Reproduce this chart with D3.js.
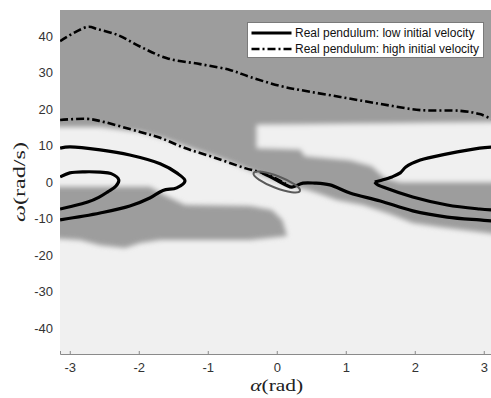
<!DOCTYPE html>
<html>
<head>
<meta charset="utf-8">
<script src="https://cdn.jsdelivr.net/npm/d3@7"></script>
<style>
  body { margin: 0; background: #fff; }
  svg text { font-family: "Liberation Sans", Arial, sans-serif; }
</style>
</head>
<body>
<div id="chart"></div>
<script>
// ---------------------------//
//       DATA                 //
// ---------------------------//
var xTicks = [-3, -2, -1, 0, 1, 2, 3];
var yTicks = [-40, -30, -20, -10, 0, 10, 20, 30, 40];

// regions of the background map [alpha, omega]
var darkTop = [[-3.5, 52], [3.5, 52], [3.5, -15.1], [2.36, -12.3], [1.97, -11.2], [1.64, -8.8],
  [1.25, -6.3], [0.87, -4.9], [0.63, -3.3], [0.41, -1.9], [0.19, -1.1], [-0.03, 0.5], [-0.22, 1.9],
  [-0.46, 3.8], [-0.68, 5.5], [-0.92, 7.1], [-1.26, 9.3], [-1.62, 11.8], [-1.98, 13.7],
  [-2.56, 15.1], [-3.5, 15.1]];
var lightBand = [[-0.29, 15.6], [3.5, 16.4], [3.5, 0.0], [1.79, 0.0], [1.57, 1.1], [1.38, 4.4],
  [1.06, 6.0], [0.41, 7.1], [0.34, 9.0], [-0.29, 9.3]];
var darkLeft = [[-3.5, -1.3], [-1.84, -1.3], [-1.62, -3.6], [-1.33, -6.3], [-0.39, -6.6],
  [-0.07, -7.7], [0.08, -10.4], [0.15, -14.8], [-0.39, -15.9], [-1.69, -15.9], [-1.98, -16.7],
  [-2.2, -18.1], [-2.56, -17.3], [-2.85, -15.9], [-3.5, -15.1]];

// high initial velocity (dash-dot)
var highUpper = [[-3.14, 38.6], [-2.74, 42.5], [-2.6, 41.9], [-2.31, 40.3], [-1.97, 37.0],
  [-1.59, 33.9], [-1.11, 32.3], [-0.68, 30.7], [-0.39, 28.8], [0.05, 26.3], [0.34, 25.2],
  [0.92, 23.3], [1.5, 21.4], [2.08, 19.7], [2.66, 19.5], [2.94, 18.6], [3.14, 17.0]];
var highLower = [[-3.14, 17.0], [-2.75, 17.3], [-2.56, 16.7], [-1.98, 13.7], [-1.69, 12.1],
  [-1.33, 9.3], [-0.92, 6.8], [-0.46, 3.8], [-0.21, 2.5], [-0.03, 1.1], [0.13, -0.5]];

// low initial velocity (solid)
var lowLeftOuter = [[-3.14, 9.3], [-3.0, 9.6], [-2.56, 8.8], [-2.13, 7.4], [-1.69, 5.0],
  [-1.45, 2.5], [-1.33, 0.3], [-1.45, -1.6], [-1.65, -2.3], [-1.84, -4.4], [-2.13, -6.6],
  [-2.56, -8.5], [-3.14, -10.4]];
var lowLeftInner = [[-3.14, 1.4], [-3.0, 2.5], [-2.78, 2.8], [-2.56, 2.7], [-2.4, 2.3],
  [-2.29, 0.6], [-2.33, -1.1], [-2.45, -2.7], [-2.58, -4.2], [-2.74, -5.5], [-3.0, -6.8],
  [-3.14, -7.4]];
var lowRightUpper = [[1.42, 0.0], [1.52, 0.5], [1.67, 1.4], [1.79, 2.5], [1.87, 4.1],
  [2.08, 6.0], [2.47, 7.7], [2.94, 9.3], [3.14, 9.6]];
var lowRightLower = [[1.42, 0.0], [1.45, -0.6], [1.57, -1.6], [1.97, -4.1], [2.47, -6.3],
  [2.94, -7.4], [3.14, -7.7]];
var lowBottom = [[-0.21, 2.5], [-0.03, 0.8], [0.13, -0.8], [0.22, -1.4], [0.38, -0.3],
  [0.55, -0.3], [0.77, -0.8], [1.06, -3.0], [1.5, -5.2], [1.97, -7.9], [2.47, -9.6],
  [2.94, -10.4], [3.14, -10.7]];

// target zone around the origin
var ellipseCenter = [0.0, 0.0];
var ellipseHalfAxes = [0.36, 1.6];

var legendLabels = ["Real pendulum: low initial velocity", "Real pendulum: high initial velocity"];

// ---------------------------//
//       SVG AND SCALES       //
// ---------------------------//
var W = 491, H = 398;
var svg = d3.select("#chart")
  .append("svg")
  .attr("width", W)
  .attr("height", H);

var x = d3.scaleLinear()
  .domain([-Math.PI, Math.PI])
  .range([60, 60 + 69 * 2 * Math.PI]);
var y = d3.scaleLinear()
  .domain([-15 * Math.PI, 15 * Math.PI])
  .range([354, 10]);

// plain hyphen minus, like the original figure
var tickFmt = function(d) { return String(d); };

var defs = svg.append("defs");
defs.append("clipPath").attr("id", "plotclip")
  .append("rect")
  .attr("x", x(-Math.PI)).attr("y", y(15 * Math.PI))
  .attr("width", x(Math.PI) - x(-Math.PI))
  .attr("height", y(-15 * Math.PI) - y(15 * Math.PI));
defs.append("filter").attr("id", "soft")
  .attr("filterUnits", "userSpaceOnUse")
  .attr("x", 0).attr("y", 0).attr("width", W).attr("height", H)
  .append("feGaussianBlur").attr("stdDeviation", 2.6);

// ---------------------------//
//       BACKGROUND MAP       //
// ---------------------------//
var area = d3.line()
  .x(function(d) { return x(d[0]); })
  .y(function(d) { return y(d[1]); })
  .curve(d3.curveLinearClosed);

var bg = svg.append("g").attr("clip-path", "url(#plotclip)");
bg.append("rect")
  .attr("x", x(-Math.PI) - 5).attr("y", y(15 * Math.PI) - 5)
  .attr("width", x(Math.PI) - x(-Math.PI) + 10)
  .attr("height", y(-15 * Math.PI) - y(15 * Math.PI) + 10)
  .style("fill", "#f0f0f0");

var blurred = bg.append("g").attr("filter", "url(#soft)");
blurred.append("path").attr("d", area(darkTop)).style("fill", "#9d9d9d");
blurred.append("path").attr("d", area(lightBand)).style("fill", "#f0f0f0");
blurred.append("path").attr("d", area(darkLeft)).style("fill", "#9d9d9d");

// ---------------------------//
//       AXES                 //
// ---------------------------//
var xAxis = svg.append("g")
  .attr("transform", "translate(0," + y(-15 * Math.PI) + ")")
  .call(d3.axisBottom(x).tickValues(xTicks).tickSize(-3).tickPadding(9).tickFormat(tickFmt));
xAxis.select(".domain").attr("stroke", "#8a8a8a");
xAxis.selectAll(".tick line").attr("stroke", "#8a8a8a");
xAxis.selectAll("text").style("font-size", "13px").attr("fill", "#333").attr("dy", "0.72em");

var yAxis = svg.append("g")
  .attr("transform", "translate(" + x(-Math.PI) + ",0)")
  .call(d3.axisLeft(y).tickValues(yTicks).tickSize(0).tickPadding(7).tickFormat(tickFmt));
yAxis.select(".domain").remove();
yAxis.selectAll("text").style("font-size", "13px").attr("fill", "#333");

// axis labels
var xLab = svg.append("text")
  .attr("x", x(0))
  .attr("y", 391)
  .attr("text-anchor", "middle")
  .attr("textLength", 53)
  .attr("lengthAdjust", "spacingAndGlyphs")
  .style("font-family", "'Liberation Serif', 'DejaVu Serif', serif")
  .style("font-size", "17px")
  .attr("fill", "#222");
xLab.append("tspan").style("font-style", "italic").text("α");
xLab.append("tspan").text("(rad)");

var yLab = svg.append("text")
  .attr("transform", "translate(25," + y(0) + ") rotate(-90)")
  .attr("text-anchor", "middle")
  .attr("textLength", 80)
  .attr("lengthAdjust", "spacingAndGlyphs")
  .style("font-family", "'Liberation Serif', 'DejaVu Serif', serif")
  .style("font-size", "17px")
  .attr("fill", "#222");
yLab.append("tspan").style("font-style", "italic").text("ω");
yLab.append("tspan").text("(rad/s)");

// ---------------------------//
//       TRAJECTORIES         //
// ---------------------------//
var curve = d3.line()
  .x(function(d) { return x(d[0]); })
  .y(function(d) { return y(d[1]); })
  .curve(d3.curveCatmullRom.alpha(0.5));

var lines = svg.append("g").attr("clip-path", "url(#plotclip)");

[highUpper, highLower].forEach(function(s) {
  lines.append("path")
    .attr("d", curve(s))
    .style("fill", "none")
    .style("stroke", "#000")
    .style("stroke-width", 2.6)
    .style("stroke-dasharray", "8,3,2,3");
});

[lowLeftOuter, lowLeftInner, lowRightUpper, lowRightLower, lowBottom].forEach(function(s) {
  lines.append("path")
    .attr("d", curve(s))
    .style("fill", "none")
    .style("stroke", "#000")
    .style("stroke-width", 3.2)
    .style("stroke-linejoin", "round");
});

// target ellipse
lines.append("ellipse")
  .attr("cx", 0).attr("cy", 0)
  .attr("rx", x(ellipseHalfAxes[0]) - x(0))
  .attr("ry", y(0) - y(ellipseHalfAxes[1]))
  .attr("transform", "translate(" + x(ellipseCenter[0]) + "," + y(ellipseCenter[1]) + ") rotate(21)")
  .style("fill", "none")
  .style("stroke", "#5a5a5a")
  .style("stroke-width", 2);

// ---------------------------//
//       LEGEND               //
// ---------------------------//
var lg = svg.append("g").attr("transform", "translate(247.5,22.5)");
lg.append("rect")
  .attr("width", 236).attr("height", 35)
  .style("fill", "#fff")
  .style("stroke", "#7a7a7a")
  .style("stroke-width", 1);

lg.selectAll("line.sample")
  .data(legendLabels)
  .enter()
  .append("line")
  .attr("class", "sample")
  .attr("x1", 4).attr("x2", 44)
  .attr("y1", function(d, i) { return 10.5 + i * 16; })
  .attr("y2", function(d, i) { return 10.5 + i * 16; })
  .style("stroke", "#000")
  .style("stroke-width", function(d, i) { return i === 0 ? 3.2 : 2.6; })
  .style("stroke-dasharray", function(d, i) { return i === 0 ? null : "8,3,2,3"; });

lg.selectAll("text.lab")
  .data(legendLabels)
  .enter()
  .append("text")
  .attr("class", "lab")
  .attr("x", 47.5)
  .attr("y", function(d, i) { return 14.8 + i * 16; })
  .style("font-size", "12px")
  .attr("fill", "#111")
  .text(function(d) { return d; });
</script>
</body>
</html>
